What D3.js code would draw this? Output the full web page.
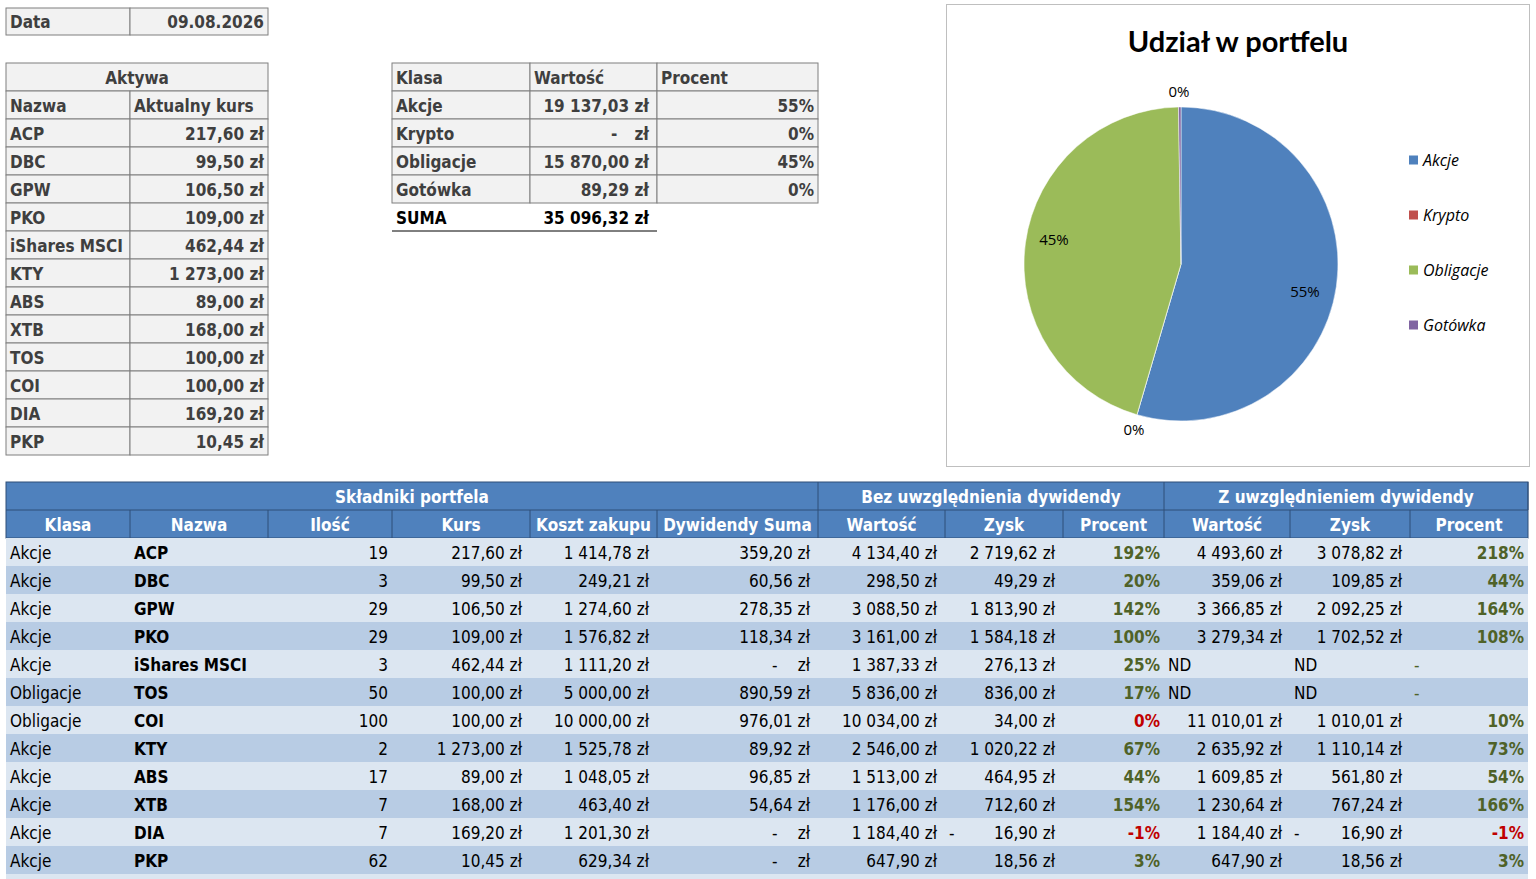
<!DOCTYPE html>
<html><head><meta charset="utf-8">
<script src="https://cdn.jsdelivr.net/npm/d3@7"></script>
<style>
body{margin:0;background:#fff;}
svg text{font-family:"Liberation Sans Narrow","DejaVu Sans Condensed","Open Sans",sans-serif;font-size:17px;}
</style></head><body>
<svg id="c" width="1536" height="879"></svg>
<script>
// ---- data ----
const dataDate = '09.08.2026';
const assetNames = ['ACP','DBC','GPW','PKO','iShares MSCI','KTY','ABS','XTB','TOS','COI','DIA','PKP'];
const assetPrices = ['217,60 zł','99,50 zł','106,50 zł','109,00 zł','462,44 zł','1 273,00 zł','89,00 zł','168,00 zł','100,00 zł','100,00 zł','169,20 zł','10,45 zł'];

const classes = ['Akcje','Krypto','Obligacje','Gotówka'];
const classValues = [19137.03, 0, 15870.00, 89.29];
const classValueLabels = ['19 137,03 zł','-','15 870,00 zł','89,29 zł'];
const classPct = ['55%','0%','45%','0%'];
const sumLabel = '35 096,32 zł';
const pieColors = ['#4F81BD','#C0504D','#9BBB59','#8064A2'];

const rowKlasa = ['Akcje','Akcje','Akcje','Akcje','Akcje','Obligacje','Obligacje','Akcje','Akcje','Akcje','Akcje','Akcje'];
const rowNazwa = ['ACP','DBC','GPW','PKO','iShares MSCI','TOS','COI','KTY','ABS','XTB','DIA','PKP'];
const rowIlosc = [19,3,29,29,3,50,100,2,17,7,7,62];
const rowKurs = ['217,60 zł','99,50 zł','106,50 zł','109,00 zł','462,44 zł','100,00 zł','100,00 zł','1 273,00 zł','89,00 zł','168,00 zł','169,20 zł','10,45 zł'];
const rowKoszt = ['1 414,78 zł','249,21 zł','1 274,60 zł','1 576,82 zł','1 111,20 zł','5 000,00 zł','10 000,00 zł','1 525,78 zł','1 048,05 zł','463,40 zł','1 201,30 zł','629,34 zł'];
const rowDyw = ['359,20 zł','60,56 zł','278,35 zł','118,34 zł','-','890,59 zł','976,01 zł','89,92 zł','96,85 zł','54,64 zł','-','-'];
const bezWart = ['4 134,40 zł','298,50 zł','3 088,50 zł','3 161,00 zł','1 387,33 zł','5 836,00 zł','10 034,00 zł','2 546,00 zł','1 513,00 zł','1 176,00 zł','1 184,40 zł','647,90 zł'];
const bezZysk = ['2 719,62 zł','49,29 zł','1 813,90 zł','1 584,18 zł','276,13 zł','836,00 zł','34,00 zł','1 020,22 zł','464,95 zł','712,60 zł','-16,90 zł','18,56 zł'];
const bezPct = [192,20,142,100,25,17,0,67,44,154,-1,3];
const zWart = ['4 493,60 zł','359,06 zł','3 366,85 zł','3 279,34 zł','ND','ND','11 010,01 zł','2 635,92 zł','1 609,85 zł','1 230,64 zł','1 184,40 zł','647,90 zł'];
const zZysk = ['3 078,82 zł','109,85 zł','2 092,25 zł','1 702,52 zł','ND','ND','1 010,01 zł','1 110,14 zł','561,80 zł','767,24 zł','-16,90 zł','18,56 zł'];
const zPct = [218,44,164,108,null,null,10,73,54,166,-1,3];

const mainHeaders = ['Klasa','Nazwa','Ilość','Kurs','Koszt zakupu','Dywidendy Suma','Wartość','Zysk','Procent','Wartość','Zysk','Procent'];
const groupHeaders = ['Składniki portfela','Bez uwzględnienia dywidendy','Z uwzględnieniem dywidendy'];

// ---- helpers ----
const svg = d3.select('#c');
const GREY = '#7F7F7F', DARK = '#3F3F3F';
function txt(x, y, s, o = {}) {
  return svg.append('text').attr('x', x).attr('y', y + 1).text(s)
    .attr('text-anchor', o.anchor || 'start').attr('dominant-baseline', 'central')
    .attr('fill', o.fill || '#000').attr('font-weight', o.bold ? 700 : 400)
    .attr('font-style', o.italic ? 'italic' : null)
    .style('font-size', o.size ? o.size + 'px' : null);
}
function cell(x0, x1, y0, y1, fill, stroke) {
  svg.append('rect').attr('x', x0).attr('y', y0).attr('width', x1 - x0).attr('height', y1 - y0)
    .attr('fill', fill).attr('stroke', stroke || 'none').attr('stroke-width', 1);
}
// money cell: "-" -> accounting zero; leading "-" -> dash at left
function money(x0, x1, y, s, o = {}) {
  const pad = o.pad || 8;
  if (s === '-') { txt(x1 - 46, y, '-', o); txt(x1 - pad, y, 'zł', Object.assign({anchor: 'end'}, o)); return; }
  if (s === 'ND') { txt(x0 + 4, y, 'ND', o); return; }
  if (s[0] === '-') { txt(x0 + 4, y, '-', o); s = s.slice(1); }
  txt(x1 - pad, y, s, Object.assign({anchor: 'end'}, o));
}

// ---- Data cell ----
const cA = [6, 130, 268];
cell(cA[0], cA[1], 8, 35, '#F2F2F2', GREY); cell(cA[1], cA[2], 8, 35, '#F2F2F2', GREY);
txt(cA[0] + 4, 21, 'Data', {bold: true, fill: DARK});
txt(cA[2] - 4, 21, dataDate, {bold: true, fill: DARK, anchor: 'end'});

// ---- Aktywa table ----
const yA = d3.scaleBand().domain(d3.range(assetNames.length + 2)).range([63, 455]);
cell(cA[0], cA[2], yA(0), yA(1), '#F2F2F2', GREY);
txt((cA[0] + cA[2]) / 2, yA(0) + yA.bandwidth() / 2, 'Aktywa', {bold: true, fill: DARK, anchor: 'middle'});
const aRows = [['Nazwa', 'Aktualny kurs']].concat(assetNames.map((n, i) => [n, assetPrices[i]]));
aRows.forEach((r, i) => {
  const y0 = yA(i + 1), yc = y0 + yA.bandwidth() / 2;
  cell(cA[0], cA[1], y0, y0 + yA.bandwidth(), '#F2F2F2', GREY);
  cell(cA[1], cA[2], y0, y0 + yA.bandwidth(), '#F2F2F2', GREY);
  txt(cA[0] + 4, yc, r[0], {bold: true, fill: DARK});
  if (i === 0) txt(cA[1] + 4, yc, r[1], {bold: true, fill: DARK});
  else txt(cA[2] - 4, yc, r[1], {bold: true, fill: DARK, anchor: 'end'});
});

// ---- Klasa table ----
const cK = [392, 530, 657, 818];
const yK = d3.scaleBand().domain(d3.range(6)).range([63, 231]);
const kRows = [['Klasa', 'Wartość', 'Procent']].concat(classes.map((c, i) => [c, classValueLabels[i], classPct[i]]));
kRows.forEach((r, i) => {
  const y0 = yK(i), yc = y0 + yK.bandwidth() / 2;
  for (let j = 0; j < 3; j++) cell(cK[j], cK[j + 1], y0, y0 + yK.bandwidth(), '#F2F2F2', GREY);
  txt(cK[0] + 4, yc, r[0], {bold: true, fill: DARK});
  if (i === 0) { txt(cK[1] + 4, yc, r[1], {bold: true, fill: DARK}); txt(cK[2] + 4, yc, r[2], {bold: true, fill: DARK}); }
  else { money(cK[1], cK[2], yc, r[1], {bold: true, fill: DARK}); txt(cK[3] - 4, yc, r[2], {bold: true, fill: DARK, anchor: 'end'}); }
});
const ySum = yK(5) + yK.bandwidth() / 2;
txt(cK[0] + 4, ySum, 'SUMA', {bold: true});
txt(cK[2] - 8, ySum, sumLabel, {bold: true, anchor: 'end'});
svg.append('line').attr('x1', cK[0]).attr('x2', cK[2]).attr('y1', 231).attr('y2', 231).attr('stroke', '#000');

// ---- Pie chart ----
cell(946.5, 1529.5, 4.5, 466.5, '#fff', '#BFBFBF');
txt(1238, 39, 'Udział w portfelu', {bold: true, size: 29, anchor: 'middle'})
  .style('font-family', 'Lato, "Open Sans", sans-serif');
const pie = d3.pie().sort(null).value(d => d)(classValues);
const arc = d3.arc().innerRadius(0).outerRadius(157);
const pg = svg.append('g').attr('transform', 'translate(1181,264)');
pg.selectAll('path').data(pie).join('path').attr('d', arc)
  .attr('fill', (d, i) => pieColors[i]).attr('stroke', '#fff').attr('stroke-width', 0.5);
const pieLabelPos = [[1305, 291], [1179, 91], [1054, 239], [1134, 429]];
classPct.forEach((p, i) => txt(pieLabelPos[i][0], pieLabelPos[i][1] - 1, p, {size: 15, anchor: 'middle'})
  .style('font-family', '"Open Sans", sans-serif'));
const yL = d3.scalePoint().domain(classes).range([160, 325]);
classes.forEach((c, i) => {
  cell(1409, 1418, yL(c) - 4.5, yL(c) + 4.5, pieColors[i]);
  txt(1423, yL(c) - 1, c, {italic: true, size: 16}).style('font-family', '"Open Sans", sans-serif');
});

// ---- Main table ----
const cols = [6, 130, 268, 392, 530, 657, 818, 945, 1063, 1164, 1290, 1410, 1528];
const yM = d3.scaleBand().domain(d3.range(15)).range([482, 482 + 28 * 15]);
const bw = yM.bandwidth();
const BLUE = '#4F81BD';
cell(cols[0], cols[12], yM(0), yM(2), BLUE);
const groups = [[0, 6], [6, 9], [9, 12]];
groups.forEach((g, i) => {
  txt((cols[g[0]] + cols[g[1]]) / 2, yM(0) + bw / 2, groupHeaders[i], {bold: true, fill: '#fff', anchor: 'middle'});
  svg.append('line').attr('x1', cols[g[1]]).attr('x2', cols[g[1]]).attr('y1', yM(0)).attr('y2', yM(1)).attr('stroke', '#2F4F78');
});
mainHeaders.forEach((h, j) => {
  txt((cols[j] + cols[j + 1]) / 2, yM(1) + bw / 2, h, {bold: true, fill: '#fff', anchor: 'middle'});
  if (j > 0) svg.append('line').attr('x1', cols[j]).attr('x2', cols[j]).attr('y1', yM(1)).attr('y2', yM(2)).attr('stroke', '#2F4F78');
});
svg.append('line').attr('x1', cols[0]).attr('x2', cols[12]).attr('y1', yM(1)).attr('y2', yM(1)).attr('stroke', '#2F4F78');
svg.append('rect').attr('x', cols[0]).attr('y', yM(0)).attr('width', cols[12] - cols[0]).attr('height', 2 * bw)
  .attr('fill', 'none').attr('stroke', '#2F4F78');

const pctColor = v => v <= 0 ? '#C00000' : '#4F6228';
rowKlasa.forEach((k, i) => {
  const y0 = yM(i + 2), yc = y0 + bw / 2;
  cell(cols[0], cols[12], y0, y0 + bw, i % 2 ? '#B8CCE4' : '#DCE6F1');
  txt(cols[0] + 4, yc, k);
  txt(cols[1] + 4, yc, rowNazwa[i], {bold: true});
  txt(cols[3] - 4, yc, rowIlosc[i], {anchor: 'end'});
  money(cols[3], cols[4], yc, rowKurs[i]);
  money(cols[4], cols[5], yc, rowKoszt[i]);
  money(cols[5], cols[6], yc, rowDyw[i]);
  money(cols[6], cols[7], yc, bezWart[i]);
  money(cols[7], cols[8], yc, bezZysk[i]);
  txt(cols[9] - 4, yc, bezPct[i] + '%', {bold: true, anchor: 'end', fill: pctColor(bezPct[i])});
  money(cols[9], cols[10], yc, zWart[i]);
  money(cols[10], cols[11], yc, zZysk[i]);
  if (zPct[i] === null) txt(cols[11] + 4, yc, '-', {fill: '#4F6228'});
  else txt(cols[12] - 4, yc, zPct[i] + '%', {bold: true, anchor: 'end', fill: pctColor(zPct[i])});
});
cell(cols[0], cols[12], yM(14), 879, '#DCE6F1');
</script></body></html>
